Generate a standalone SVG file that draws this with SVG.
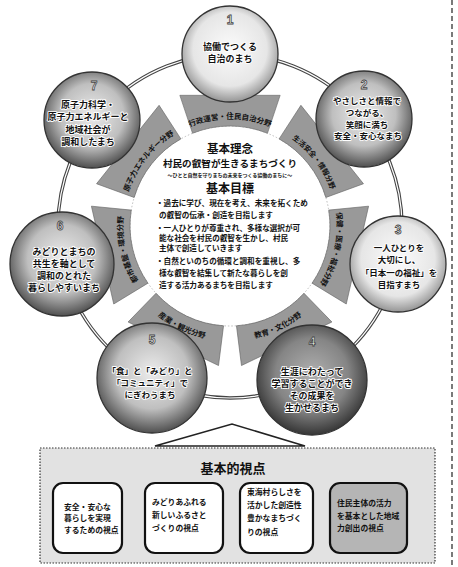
<svg xmlns="http://www.w3.org/2000/svg" width="458" height="567" viewBox="0 0 458 567">
<style>
text{font-family:"Noto Sans CJK JP","Noto Sans CJK SC",sans-serif;font-weight:700;fill:#111}
.n{font-size:9px;text-anchor:middle;stroke:#fff;stroke-width:1.8px;paint-order:stroke;stroke-linejoin:round}
.num{font-family:"Liberation Sans",sans-serif;font-size:12px;text-anchor:middle;fill:#fff;stroke:#444;stroke-width:0.8px}
.b{font-size:7.5px}
.c{text-anchor:middle}
.g{font-size:7.6px;font-weight:700}
.bx{fill:#fff;stroke:#111;stroke-width:2.2}
.bt{font-size:7.8px}
.ban{fill:#999;stroke:#666;stroke-width:0.6}
.node{stroke:#333;stroke-width:1.3}
</style>
<defs>
<radialGradient id="gL" cx="50%" cy="45%" r="55%"><stop offset="0" stop-color="#fbfbfb"/><stop offset="0.7" stop-color="#e6e6e6"/><stop offset="1" stop-color="#959595"/></radialGradient>
<radialGradient id="gM" cx="50%" cy="45%" r="55%"><stop offset="0" stop-color="#ececec"/><stop offset="0.6" stop-color="#bfbfbf"/><stop offset="1" stop-color="#505050"/></radialGradient>
<radialGradient id="gD" cx="50%" cy="45%" r="55%"><stop offset="0" stop-color="#b0b0b0"/><stop offset="0.6" stop-color="#858585"/><stop offset="1" stop-color="#363636"/></radialGradient>
<path id="banShape" d="M192.54,133.28 A100,100 0 0 1 267.46,133.28 L280.17,95.3 L179.83,95.3 Z"/>
<path id="t1" d="M168.6,138.35 A107,107 0 0 1 291.4,138.35"/>
<path id="t2" d="M260.27,123.37 A107,107 0 0 1 336.8,219.33"/>
<path id="t3" d="M329.11,185.67 A107,107 0 0 1 301.8,305.34"/>
<path id="t4" d="M211.44,339.49 A115,115 0 0 0 330.3,282.26"/>
<path id="t5" d="M129.7,282.26 A115,115 0 0 0 248.56,339.49"/>
<path id="t6" d="M158.2,305.34 A107,107 0 0 1 130.89,185.67"/>
<path id="t7" d="M123.2,219.33 A107,107 0 0 1 199.73,123.37"/>
</defs>
<rect width="458" height="567" fill="#fff"/>
<line x1="452" y1="0" x2="452" y2="567" stroke="#222" stroke-width="1.2" stroke-dasharray="5 3"/>

<g id="connectors">
<circle cx="230" cy="226" r="172" fill="none" stroke="#444" stroke-width="3.4"/>
<circle cx="230" cy="226" r="172" fill="none" stroke="#fff" stroke-width="1.2"/>
<polygon points="155,446 232,424 305,446" fill="#fff" stroke="#222" stroke-width="1.6"/>
</g>

<g id="center">
<circle cx="230" cy="226" r="100" fill="#fff" stroke="#bbb" stroke-width="1" stroke-dasharray="1.5 2"/>
<text class="c" x="230" y="153" style="font-size:11.5px">基本理念</text>
<text class="c" x="230" y="167" style="font-size:9.6px">村民の叡智が生きるまちづくり</text>
<text class="c" x="230" y="177" style="font-size:5px">〜ひとと自然を守りまちの未来をつくる協働のまちに〜</text>
<text class="c" x="230" y="193" style="font-size:12px">基本目標</text>
<text class="g" x="156" y="206">・過去に学び、現在を考え、未来を拓くため</text>
<text class="g" x="159" y="218">の叡智の伝承・創造を目指します</text>
<text class="g" x="156" y="231">・一人ひとりが尊重され、多様な選択が可</text>
<text class="g" x="159" y="241">能な社会を村民の叡智を生かし、村民</text>
<text class="g" x="159" y="251">主体で創造していきます</text>
<text class="g" x="156" y="264">・自然といのちの循環と調和を重視し、多</text>
<text class="g" x="159" y="276">様な叡智を結集して新たな暮らしを創</text>
<text class="g" x="159" y="288">造する活力あるまちを目指します</text>
</g>

<g id="banners">
<use href="#banShape" class="ban"/>
<use href="#banShape" class="ban" transform="rotate(51.43 230 226)"/>
<use href="#banShape" class="ban" transform="rotate(102.86 230 226)"/>
<use href="#banShape" class="ban" transform="rotate(154.29 230 226)"/>
<use href="#banShape" class="ban" transform="rotate(205.71 230 226)"/>
<use href="#banShape" class="ban" transform="rotate(257.14 230 226)"/>
<use href="#banShape" class="ban" transform="rotate(308.57 230 226)"/>
<text class="b"><textPath href="#t1" startOffset="50%" text-anchor="middle">行政運営・住民自治分野</textPath></text>
<text class="b" style="font-size:7.2px"><textPath href="#t2" startOffset="52%" text-anchor="middle">生活安全・情報分野</textPath></text>
<text class="b"><textPath href="#t3" startOffset="50%" text-anchor="middle">保健・医療・福祉分野</textPath></text>
<text class="b"><textPath href="#t4" startOffset="50%" text-anchor="middle">教育・文化分野</textPath></text>
<text class="b"><textPath href="#t5" startOffset="50%" text-anchor="middle">産業・観光分野</textPath></text>
<text class="b"><textPath href="#t6" startOffset="50%" text-anchor="middle">都市基盤・環境分野</textPath></text>
<text class="b"><textPath href="#t7" startOffset="50%" text-anchor="middle">原子力エネルギー分野</textPath></text>
</g>

<g id="node1">
<circle class="node" cx="230" cy="54" r="48" fill="url(#gL)"/>
<text class="num" x="230" y="24">1</text>
<text class="n" x="230" y="50">協働でつくる</text>
<text class="n" x="230" y="62">自治のまち</text>
</g>
<g id="node2">
<circle class="node" cx="364" cy="119" r="48" fill="url(#gM)"/>
<text class="num" x="364" y="89">2</text>
<text class="n" x="367" y="104" style="font-size:8.5px">やさしさと情報で</text>
<text class="n" x="367" y="116" style="font-size:8.5px">つながる、</text>
<text class="n" x="367" y="128" style="font-size:8.5px">笑顔に満ち</text>
<text class="n" x="368" y="139" style="font-size:8.5px">安全・安心なまち</text>
</g>
<g id="node3">
<circle class="node" cx="398" cy="264" r="48" fill="url(#gL)"/>
<text class="num" x="398" y="234">3</text>
<text class="n" x="399" y="251" style="font-size:8.5px">一人ひとりを</text>
<text class="n" x="399" y="263" style="font-size:8.5px">大切にし、</text>
<text class="n" x="399" y="276" style="font-size:8.5px">「日本一の福祉」を</text>
<text class="n" x="399" y="288" style="font-size:8.5px">目指すまち</text>
</g>
<g id="node4">
<circle class="node" cx="312" cy="380" r="55" fill="url(#gD)"/>
<text class="num" x="312" y="346">4</text>
<text class="n" x="312" y="375">生涯にわたって</text>
<text class="n" x="312" y="387">学習することができ</text>
<text class="n" x="312" y="399">その成果を</text>
<text class="n" x="312" y="411">生かせるまち</text>
</g>
<g id="node5">
<circle class="node" cx="152" cy="378" r="55" fill="url(#gM)"/>
<text class="num" x="152" y="344">5</text>
<text class="n" x="150" y="374" style="font-size:8.5px">「食」と「みどり」と</text>
<text class="n" x="150" y="386" style="font-size:8.5px">「コミュニティ」で</text>
<text class="n" x="150" y="398" style="font-size:8.5px">にぎわうまち</text>
</g>
<g id="node6">
<circle class="node" cx="62" cy="264" r="52" fill="url(#gM)"/>
<text class="num" x="60" y="230">6</text>
<text class="n" x="64" y="255">みどりとまちの</text>
<text class="n" x="64" y="267">共生を軸として</text>
<text class="n" x="64" y="279">調和のとれた</text>
<text class="n" x="64" y="291">暮らしやすいまち</text>
</g>
<g id="node7">
<circle class="node" cx="92" cy="120" r="48" fill="url(#gM)"/>
<text class="num" x="94" y="90">7</text>
<text class="n" x="88" y="108">原子力科学・</text>
<text class="n" x="88" y="120">原子力エネルギーと</text>
<text class="n" x="88" y="133">地域社会が</text>
<text class="n" x="88" y="145">調和したまち</text>
</g>

<g id="viewpoints">
<rect x="40" y="448" width="395" height="115" fill="#e2e2e2" stroke="#333" stroke-width="1.2" stroke-dasharray="1.5 1.5"/>
<text class="c" x="233" y="473" style="font-size:13px">基本的視点</text>
</g>
<g id="vp1">
<rect class="bx" x="53" y="483" width="69" height="70" rx="10"/>
<text class="bt" x="64" y="510">安全・安心な</text>
<text class="bt" x="64" y="521">暮らしを実現</text>
<text class="bt" x="64" y="533">するための視点</text>
</g>
<g id="vp2">
<rect class="bx" x="145" y="483" width="78" height="70" rx="10"/>
<text class="bt" x="152" y="505">みどりあふれる</text>
<text class="bt" x="152" y="518">新しいふるさと</text>
<text class="bt" x="152" y="531">づくりの視点</text>
</g>
<g id="vp3">
<rect class="bx" x="240" y="483" width="73" height="70" rx="10"/>
<text class="bt" x="247" y="495">東海村らしさを</text>
<text class="bt" x="247" y="508">活かした創造性</text>
<text class="bt" x="247" y="521">豊かなまちづく</text>
<text class="bt" x="247" y="535">りの視点</text>
</g>
<g id="vp4">
<rect class="bx" x="330" y="483" width="77" height="70" rx="10" style="fill:#b5b5b5"/>
<text class="bt" x="337" y="506">住民主体の活力</text>
<text class="bt" x="337" y="519">を基本とした地域</text>
<text class="bt" x="337" y="531">力創出の視点</text>
</g>
</svg>
